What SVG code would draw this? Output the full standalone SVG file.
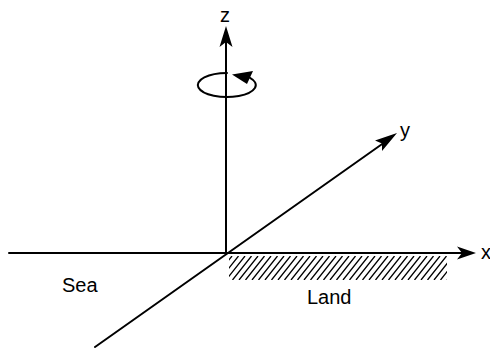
<svg xmlns="http://www.w3.org/2000/svg" width="490" height="348" viewBox="0 0 490 348">
<defs>
<style>
.ax{stroke:#000;stroke-width:2;fill:none;stroke-linecap:round}
.hat{stroke:#000;stroke-width:1.3}
.lbl{font-family:"Liberation Sans",Arial,sans-serif;font-size:20px;fill:#000}
</style>
<clipPath id="landclip"><rect x="229" y="256" width="218" height="24"/></clipPath>
</defs>
<rect width="490" height="348" fill="#fff"/>
<g id="land">
<g clip-path="url(#landclip)" class="hat">
<path d="M232 256L213 280M238.5 256L219.5 280M245 256L226 280M251.5 256L232.5 280M258 256L239 280M264.5 256L245.5 280M271 256L252 280M277.5 256L258.5 280M284 256L265 280M290.5 256L271.5 280M297 256L278 280M303.5 256L284.5 280M310 256L291 280M316.5 256L297.5 280M323 256L304 280M329.5 256L310.5 280M336 256L317 280M342.5 256L323.5 280M349 256L330 280M355.5 256L336.5 280M362 256L343 280M368.5 256L349.5 280M375 256L356 280M381.5 256L362.5 280M388 256L369 280M394.5 256L375.5 280M401 256L382 280M407.5 256L388.5 280M414 256L395 280M420.5 256L401.5 280M427 256L408 280M433.5 256L414.5 280M440 256L421 280M446.5 256L427.5 280M453 256L434 280M459.5 256L440.5 280M466 256L447 280"/>
</g>
<text class="lbl" x="307" y="304" font-size="21">Land</text>
</g>
<g id="sea">
<text class="lbl" x="62" y="292">Sea</text>
</g>
<g id="connectors">
<line class="ax" x1="9" y1="253" x2="462" y2="253"/>
<polygon points="476,253 457,246.5 462,253 457,259.5" fill="#000"/>
<line class="ax" x1="226" y1="254" x2="226" y2="40"/>
<polygon points="226,26 219.5,47 226,42 232.5,47" fill="#000"/>
<line class="ax" x1="95" y1="347" x2="385" y2="142"/>
<polygon points="397,133 375,140.5 382,143.5 382,151" fill="#000"/>
<path class="ax" d="M250 77.8 A29 12 0 1 1 227 73"/>
<polygon points="232,74.5 253,71 247,84" fill="#000"/>
</g>
<g id="labels">
<text class="lbl" x="220" y="22">z</text>
<text class="lbl" x="400" y="137">y</text>
<text class="lbl" x="481" y="259">x</text>
</g>
</svg>
